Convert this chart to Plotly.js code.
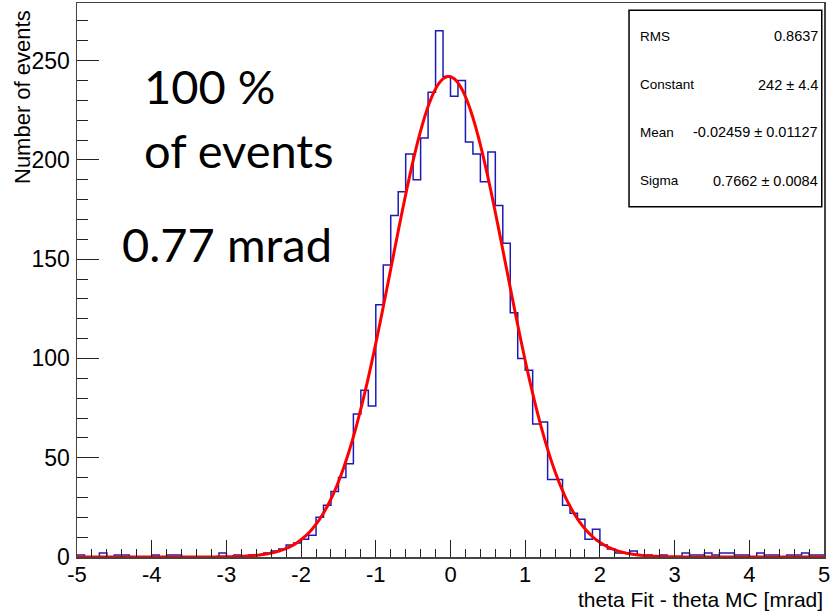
<!DOCTYPE html>
<html>
<head>
<meta charset="utf-8">
<script src="https://cdn.plot.ly/plotly-3.0.1.min.js"></script>
<style>
  html, body { margin: 0; padding: 0; background: #ffffff; }
  #chart { width: 830px; height: 612px; }
</style>
</head>
<body>
<div id="chart"></div>
<script>
// Histogram binning: 100 bins from -5 to 5 mrad
const binLow = -5;
const binHigh = 5;
const nBins = 100;

// Counts per bin, bin [-5,-4.9] first
const counts = [
  1, 0, 0, 2, 0, 1, 1, 0, 0, 0,
  1, 0, 1, 1, 0, 0, 0, 0, 0, 2,
  0, 1, 0, 1, 1, 2, 3, 4, 6, 7,
  9, 11, 20, 26, 33, 40, 47, 72, 84, 76,
  127, 147, 172, 184, 203, 190, 211, 234, 265, 242,
  232, 240, 209, 203, 189, 204, 177, 158, 123, 100,
  94, 67, 68, 39, 39, 26, 22, 19, 9, 14,
  6, 4, 2, 2, 3, 1, 1, 0, 1, 0,
  0, 2, 1, 1, 2, 1, 2, 2, 1, 1,
  0, 2, 1, 1, 0, 1, 1, 2, 1, 1
];

// Gaussian fit parameters (from the stats box)
const fitConstant = 242;
const fitMean = -0.02459;
const fitSigma = 0.7662;

// Stats box labels and values
const statLabels = ["RMS", "Constant", "Mean", "Sigma"];
const statValues = ["0.8637", "242 \u00b1 4.4", "-0.02459 \u00b1 0.01127", "0.7662 \u00b1 0.0084"];

// Big annotation text
const noteLines = ["100 %", "of events", "0.77 mrad"];

// Axis tick values and labels
const xTickVals = [-5, -4, -3, -2, -1, 0, 1, 2, 3, 4, 5];
const xTickText = ["-5", "-4", "-3", "-2", "-1", "0", "1", "2", "3", "4", "5"];
const yTickVals = [0, 50, 100, 150, 200, 250];
const yTickText = ["0", "50", "100", "150", "200", "250"];

// Axis labels
const xTitle = "theta Fit - theta MC [mrad]";
const yTitle = "Number of events";

// ---- build step outline from bins ----
const width = (binHigh - binLow) / nBins;
const edgesX = [];
const stepY = [];
for (let i = 0; i < nBins; i++) {
  edgesX.push(binLow + i * width);
  stepY.push(counts[i]);
}
edgesX.push(binHigh);
stepY.push(counts[nBins - 1]);

// ---- fit curve ----
const fitX = [], fitY = [];
const nFit = 500;
for (let i = 0; i <= nFit; i++) {
  const x = binLow + (binHigh - binLow) * i / nFit;
  fitX.push(x);
  fitY.push(fitConstant * Math.exp(-0.5 * Math.pow((x - fitMean) / fitSigma, 2)));
}

const histTrace = {
  type: 'scatter', mode: 'lines',
  x: edgesX, y: stepY,
  line: { shape: 'hv', color: '#1c1cb4', width: 1.5 },
  hoverinfo: 'skip', showlegend: false
};
const fitTrace = {
  type: 'scatter', mode: 'lines',
  x: fitX, y: fitY,
  line: { color: '#ff0000', width: 3, shape: 'spline' },
  hoverinfo: 'skip', showlegend: false
};

const axisFont = { family: 'Liberation Sans, Arial, sans-serif', size: 22, color: '#000' };
const statLabelFont = { family: 'Liberation Sans, Arial, sans-serif', size: 13.5, color: '#000' };
const statValueFont = { family: 'Liberation Sans, Arial, sans-serif', size: 14.5, color: '#000' };
const bigFont = { family: 'Lato, Open Sans, sans-serif', size: 47, color: '#000' };

const annotations = [];
// Stats rows
const rowY = [0.940, 0.852, 0.767, 0.679];
for (let i = 0; i < statLabels.length; i++) {
  annotations.push({ xref: 'paper', yref: 'paper', x: 0.751, y: rowY[i], xanchor: 'left', yanchor: 'middle',
    text: statLabels[i], showarrow: false, font: statLabelFont });
  annotations.push({ xref: 'paper', yref: 'paper', x: 0.995, y: rowY[i], xanchor: 'right', yanchor: 'middle',
    text: statValues[i], showarrow: false, font: statValueFont });
}
// Big text
annotations.push({ xref: 'x', yref: 'y', x: -4.13, y: 237, xanchor: 'left', yanchor: 'middle',
  text: noteLines[0], showarrow: false, font: bigFont });
annotations.push({ xref: 'x', yref: 'y', x: -4.13, y: 205, xanchor: 'left', yanchor: 'middle',
  text: noteLines[1], showarrow: false, font: bigFont });
annotations.push({ xref: 'x', yref: 'y', x: -4.43, y: 157.5, xanchor: 'left', yanchor: 'middle',
  text: noteLines[2], showarrow: false, font: bigFont });
// Axis titles (ROOT style: aligned to axis ends)
annotations.push({ xref: 'paper', yref: 'paper', x: 1, y: 0, xanchor: 'right', yanchor: 'bottom', yshift: -55,
  borderpad: 0, text: xTitle, showarrow: false,
  font: { family: 'Liberation Sans, Arial, sans-serif', size: 21, color: '#000' } });
annotations.push({ xref: 'paper', yref: 'paper', x: 0, y: 1, xanchor: 'center', yanchor: 'top', xshift: -55, yshift: -5,
  textangle: -90, text: yTitle, showarrow: false, font: { family: 'Liberation Sans, Arial, sans-serif', size: 22, color: '#000' } });

const layout = {
  width: 830, height: 612,
  margin: { l: 77, r: 6, t: 3, b: 55 },
  paper_bgcolor: '#ffffff', plot_bgcolor: '#ffffff',
  showlegend: false,
  xaxis: {
    range: [binLow, binHigh], tickmode: 'array', tickvals: xTickVals, ticktext: xTickText,
    ticks: 'inside', ticklen: 17, tickwidth: 1, tickcolor: '#222',
    minor: { dtick: 0.2, tick0: 0, ticks: 'inside', ticklen: 8, tickwidth: 1, tickcolor: '#222' },
    showgrid: false, zeroline: false,
    showline: true, linecolor: '#444', linewidth: 1.5, mirror: true,
    tickfont: axisFont, ticklabelstandoff: -3, ticklabeloverflow: 'allow'
  },
  yaxis: {
    range: [0, 279], tickmode: 'array', tickvals: yTickVals, ticktext: yTickText,
    ticks: 'inside', ticklen: 22, tickwidth: 1, tickcolor: '#222',
    minor: { dtick: 10, tick0: 0, ticks: 'inside', ticklen: 11, tickwidth: 1, tickcolor: '#222' },
    showgrid: false, zeroline: false,
    showline: true, linecolor: '#444', linewidth: 1.5, mirror: true,
    tickfont: { family: 'Liberation Sans, Arial, sans-serif', size: 23, color: '#000' },
    ticklabelstandoff: 1, ticklabeloverflow: 'allow'
  },
  shapes: [
    { type: 'rect', xref: 'paper', yref: 'paper', x0: 0.739, x1: 0.997, y0: 0.632, y1: 0.987,
      line: { color: '#000', width: 1.5 }, fillcolor: '#ffffff', layer: 'above' }
  ],
  annotations: annotations
};

Plotly.newPlot('chart', [histTrace, fitTrace], layout, { staticPlot: true, displayModeBar: false });
</script>
</body>
</html>
